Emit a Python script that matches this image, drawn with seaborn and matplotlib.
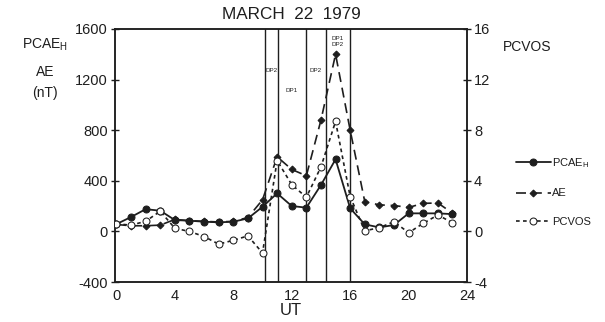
import matplotlib
matplotlib.use("Agg")
import matplotlib.pyplot as plt
import seaborn as sns
import pandas as pd
from matplotlib.ticker import MultipleLocator

sns.set_theme(style="white")
plt.rcParams['font.family'] = ['Liberation Sans', 'DejaVu Sans']
plt.rcParams['axes.unicode_minus'] = False

ut = list(range(24))
pcae_h = [58, 114, 176, 164, 90, 85, 77, 72, 77, 103, 195, 301, 201, 188, 367, 570,
          183, 56, 32, 51, 143, 143, 143, 137]
ae = [55, 45, 45, 50, 95, 85, 80, 75, 80, 110, 250, 590, 490, 440, 880, 1400,
      800, 235, 210, 205, 190, 222, 225, 145]
pcvos = [0.6, 0.5, 0.8, 1.6, 0.25, 0.0, -0.4, -1.0, -0.7, -0.35, -1.7, 5.6, 3.7, 2.7,
         5.1, 8.7, 2.75, 0.05, 0.3, 0.77, -0.1, 0.64, 1.3, 0.69]
dp_times = [10.15, 11.05, 13.0, 14.35, 16.0]
dp_labels = [(10.6, 1270, "DP2"), (12.0, 1110, "DP1"), (13.65, 1270, "DP2"),
             (15.15, 1500, "DP1\nDP2")]

df = pd.DataFrame({"UT": ut, "PCAE": pcae_h, "AE": ae, "PCVOS": pcvos})

ink = "#1e1e1e"
fig = plt.figure(figsize=(6.05, 3.22), dpi=100)
ax = fig.add_axes([0.190, 0.124, 0.582, 0.786])
ax2 = ax.twinx()

for x in dp_times:
    ax.axvline(x, color=ink, lw=1.0, zorder=1)
for x, y, t in dp_labels:
    ax.text(x, y, t, fontsize=4.5, ha="center", va="center", color=ink, linespacing=1.3)

sns.lineplot(data=df, x="UT", y="PCAE", ax=ax, color=ink, lw=1.3, marker="o",
             markersize=5, markeredgecolor=ink, markerfacecolor=ink, zorder=4)
sns.lineplot(data=df, x="UT", y="AE", ax=ax, color=ink, lw=1.2, marker="D",
             markersize=3.5, markeredgecolor=ink, markerfacecolor=ink,
             dashes=False, zorder=3)
ax.lines[-1].set_linestyle((0, (6, 3.5)))
sns.lineplot(data=df, x="UT", y="PCVOS", ax=ax2, color=ink, lw=1.2, marker="o",
             markersize=5, markeredgecolor=ink, markerfacecolor="white", zorder=3)
ax2.lines[-1].set_linestyle((0, (2.2, 2)))

ax.set_xlim(-0.1, 24)
ax.set_ylim(-400, 1600)
ax2.set_ylim(-4, 16)
ax.set_xticks(range(0, 25, 4))
ax.xaxis.set_minor_locator(MultipleLocator(1))
ax.set_yticks(range(-400, 1601, 400))
ax2.set_yticks(range(-4, 17, 4))
ax.set_xlabel("UT", fontsize=12, color=ink, labelpad=0)
ax.set_ylabel("")
ax2.set_ylabel("")

for a in (ax, ax2):
    for s in a.spines.values():
        s.set_color(ink)
        s.set_linewidth(1.1)
ax.tick_params(axis="both", which="major", direction="inout", length=6, width=1.0,
               colors=ink, labelsize=10.5, pad=2)
ax.tick_params(axis="x", which="minor", direction="in", length=3, width=1.0, colors=ink)
ax.tick_params(axis="x", which="major", labelsize=10.5)
ax2.tick_params(axis="y", direction="inout", length=6, width=1.0, colors=ink,
                labelsize=10.5, pad=2)
ax.spines["top"].set_visible(True)

fig.text(0.481, 0.955, "MARCH  22  1979", fontsize=12.3, ha="center", va="center", color=ink)
fig.text(0.075, 0.86, "PCAE$_\\mathregular{H}$", fontsize=10, ha="center", va="center", color=ink)
fig.text(0.075, 0.775, "AE", fontsize=10, ha="center", va="center", color=ink)
fig.text(0.075, 0.71, "(nT)", fontsize=10, ha="center", va="center", color=ink)
fig.text(0.871, 0.855, "PCVOS", fontsize=10, ha="center", va="center", color=ink)

h1 = ax.lines[len(dp_times)]
h2 = ax.lines[len(dp_times) + 1]
h3 = ax2.lines[0]
leg = fig.legend([h1, h2, h3], ["PCAE$_\\mathregular{H}$", "AE", "PCVOS"],
                 loc="center left", bbox_to_anchor=(0.845, 0.405), frameon=False,
                 fontsize=8, handlelength=3.2, handletextpad=0.1, labelspacing=1.7,
                 borderaxespad=0)
for t in leg.get_texts():
    t.set_color(ink)

fig.savefig("out.png", dpi=100, facecolor="white")
